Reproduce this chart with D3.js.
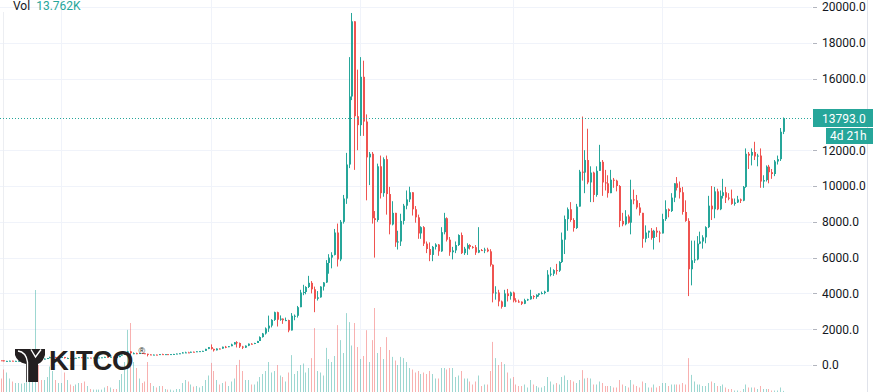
<!DOCTYPE html>
<html><head><meta charset="utf-8">
<script src="https://cdn.jsdelivr.net/npm/d3@7"></script>
<style>html,body{margin:0;padding:0;background:#fff;overflow:hidden}svg{display:block}</style>
</head><body>
<svg id="c" width="875" height="392"></svg>
<script>
// ---- data: BTC/USD weekly candles, first week starting Monday 2015-08-03 ----
const firstWeek = "2015-08-03";
const open = [
281,263,260,229,229,240,230,231,234,238, 245,262,284,325,384,330,325,357,390,435,
440,422,430,448,385,390,378,375,400,437, 432,405,414,410,417,420,420,430,455,450,
460,455,440,525,580,690,760,660,660,650, 668,655,625,590,570,580,570,608,605,607,
600,610,617,638,655,700,705,700,740,735, 765,775,790,900,998,900,820,920,915,1020,
1000,1050,1150,1270,1230,1030,970,1080,1190,1180, 1230,1340,1560,1760,2040,2200,2520,2950,2530,2590,
2500,2510,1930,2750,2750,3230,4050,4080,4360,4590, 4230,3700,3780,4380,4610,5700,6000,6150,7400,5900,
8000,9300,11200,15000,19200,13900,13400,16100,13600,11600, 11800,8200,8100,11100,9600,11500,9550,7850,8500,6850,
6900,8050,8900,9250,9650,8700,8250,7350,7700,6780, 6480,6150,6600,6730,6350,7420,8200,7000,6300,6400,
6700,7260,6250,6500,6700,6600,6580,6280,6420,6400, 6450,6350,5600,4000,4050,3550,3250,4000,3850,4050,
3600,3550,3540,3420,3620,3670,3850,3800,3920,4000, 4020,4100,5050,5100,5300,5270,5750,7000,8150,8700,
8100,7650,8850,10800,10750,11450,10200,10750,9500,10850, 11350,10200,10150,9600,10350,10300,10000,8050,7860,8300,
7950,9250,9200,8800,8500,7050,7400,7500,7100,7500, 7400,7350,8150,8700,8600,9350,10150,9900,9650,8550,
8050,5350,5850,5900,6780,6900,7130,7700,8900,8700, 9700,8700,9450,9650,9350,9300,9000,9080,9250,9180,
9950,11800,11700,11900,11650,11700,10250,10330,11080,10770, 10670,11370,11500,13030];
const high = [
285,272,262,232,241,245,235,236,240,248, 270,290,335,502,388,336,365,392,465,465,
458,436,455,450,410,396,378,405,442,443, 438,420,418,420,425,424,432,458,468,465,
462,458,530,585,700,780,770,705,690,675, 676,660,630,600,590,587,612,630,612,610,
612,620,641,660,720,742,740,745,750,768, 775,795,905,1000,1150,910,925,925,1025,1067,
1060,1190,1280,1330,1255,1070,1090,1200,1220,1240, 1350,1600,1790,2100,2760,2560,2980,2980,2770,2600,
2650,2530,2900,2820,3300,4200,4480,4400,4980,4690, 4380,4130,4400,4630,5860,6190,6300,7600,7900,8100,
9500,11850,17200,19666,19200,16500,17200,17000,14000,11900, 11900,8600,11250,11700,11600,11700,9950,9150,8500,7500,
8450,9000,9750,9960,9650,8880,8400,7750,7760,6900, 6850,6650,6800,6760,7700,8500,8250,7150,6600,6900,
7300,7400,6600,6800,6750,6650,6700,7700,6480,6550, 6550,6470,5620,4400,4200,3600,4200,4250,4100,4100,
3730,3650,3550,3700,3700,4200,3900,3950,4000,4100, 4150,5300,5460,5350,5650,5800,7400,8350,8800,9100,
8200,9000,10900,13880,12000,13200,11100,10800,11100,12300, 11450,10900,10600,10900,10450,10350,10050,8500,8650,8400,
10350,9800,9500,9050,8500,7800,7500,7650,7550,7700, 7500,8450,9200,8750,9600,10150,10500,10250,9950,9200,
8200,6950,6950,7200,7450,7250,7750,9450,10000,9950, 9850,9750,10400,9950,9600,9800,9300,9450,9300,10000,
12100,11900,12100,12470,11800,12100,10600,11150,11180,10950, 11450,11700,13240,13830];
const low = [
258,258,198,199,225,229,225,226,234,236, 245,262,281,325,300,313,315,357,387,425,
418,415,425,360,368,368,366,372,399,408, 398,400,405,408,411,414,419,427,445,440,
448,436,437,520,568,660,550,605,605,645, 650,615,480,565,565,565,568,604,600,592,
596,607,615,628,652,680,690,695,725,730, 755,770,790,885,860,752,815,880,910,940,
995,1050,1145,980,950,891,955,1055,1150,1165, 1230,1340,1530,1700,1850,2100,2460,2150,2470,2300,
2450,1830,1930,2500,2650,3230,3900,3950,4300,4000, 2950,3600,3760,4160,4580,5100,5400,6120,5500,5800,
7900,9000,11000,14800,10900,12000,12800,12800,9200,10050, 7900,6000,8000,9300,9400,8400,7300,7800,6600,6450,
6650,7850,8700,9100,8350,7950,7050,7050,6650,6250, 5800,5800,6450,6100,6320,7300,6900,6100,5900,6250,
6650,6200,6150,6150,6450,6500,6150,6250,6370,6250, 6300,5500,3500,3650,3280,3150,3250,3550,3650,3500,
3500,3480,3350,3400,3580,3650,3680,3700,3820,3950, 3950,4080,4950,4980,5050,5200,5700,6200,7500,8000,
7450,7600,8850,10300,9600,10100,9100,9100,9400,10850, 9450,9750,9350,9600,9900,9700,7700,7750,7800,7900,
7300,8980,8700,8350,6550,6850,7100,7000,6450,7150, 6850,7350,8050,8250,8550,9100,9750,9300,8400,8000,
3850,4450,5700,5850,6750,6500,6800,7650,8100,8200, 8650,8650,9300,9050,9200,8950,8900,9050,9050,9150,
9900,10950,11150,11450,11100,9900,9900,10250,10150,10400, 10550,11200,11400,12900];
const close = [
263,260,229,229,240,230,231,234,238,245, 262,284,325,384,330,325,357,390,435,440,
422,430,448,385,390,378,375,400,437,432, 405,414,410,417,420,420,430,455,450,460,
455,440,525,580,690,760,660,660,650,668, 655,625,590,570,580,570,608,605,607,600,
610,617,638,655,700,705,700,740,735,765, 775,790,900,998,900,820,920,915,1020,1000,
1050,1150,1270,1230,1030,970,1080,1190,1180,1230, 1340,1560,1760,2040,2200,2520,2950,2530,2590,2500,
2510,1930,2750,2750,3230,4050,4080,4360,4590,4230, 3700,3780,4380,4610,5700,6000,6150,7400,5900,8000,
9300,11200,15000,19200,13900,13400,16100,13600,11600,11800, 8200,8100,11100,9600,11500,9550,7850,8500,6850,6900,
8050,8900,9250,9650,8700,8250,7350,7700,6780,6480, 6150,6600,6730,6350,7420,8200,7000,6300,6400,6700,
7260,6250,6500,6700,6600,6580,6280,6420,6400,6450, 6350,5600,4000,4050,3550,3250,4000,3850,4050,3600,
3550,3540,3420,3620,3670,3850,3800,3920,4000,4020, 4100,5050,5100,5300,5270,5750,7000,8150,8700,8100,
7650,8850,10800,10750,11450,10200,10750,9500,10850,11350, 10200,10150,9600,10350,10300,10000,8050,7860,8300,7950,
9250,9200,8800,8500,7050,7400,7500,7100,7500,7400, 7350,8150,8700,8600,9350,10150,9900,9650,8550,8050,
5350,5850,5900,6780,6900,7130,7700,8900,8700,9700, 8700,9450,9650,9350,9300,9000,9080,9250,9180,9950,
11800,11700,11900,11650,11700,10250,10330,11080,10770,10670, 11370,11500,13030,13793];
// weekly volume, thousands
const volume = [
60,55,85,75,55,45,40,40,38,40, 55,70,120,350,100,50,50,60,95,80,
50,40,40,75,50,35,30,35,40,40, 45,30,20,18,18,18,18,25,30,25,
20,20,50,70,110,217,240,110,90,55, 40,45,110,40,30,25,30,30,20,18,
18,15,20,20,40,50,45,35,28,30, 25,30,50,65,107,80,50,35,40,45,
30,45,55,100,117,80,50,50,35,35, 45,60,70,80,110,75,80,100,65,60,
45,75,133,70,80,100,105,75,90,123, 223,80,75,65,157,120,110,130,233,183,
140,273,243,165,240,160,120,130,216,110, 183,290,140,160,120,193,150,127,115,100,
127,123,110,90,85,75,80,70,75,70, 80,70,55,55,90,90,85,90,90,60,
65,80,55,55,45,35,45,65,30,35, 35,80,177,123,100,110,103,75,55,60,
35,30,30,35,25,50,35,30,25,25, 30,60,45,35,40,35,60,65,50,50,
45,40,50,83,55,57,55,35,35,45, 40,30,30,30,25,25,50,35,30,25,
50,35,30,25,45,40,25,25,35,25, 30,40,40,30,35,35,35,35,40,35,
123,67,45,35,35,30,30,40,45,40, 30,30,35,25,20,20,15,15,12,20,
35,25,25,25,20,30,20,20,20,15, 15,15,25,13.762];
const priceTicks = [0,2000,4000,6000,8000,10000,12000,16000,18000,20000];
const yearGrid = [2016,2017,2018,2019,2020];
const lastPriceLabel = "13793.0";
const countdownLabel = "4d 21h";
const volLegend = "13.762K";

// ---- drawing ----
const W = 875, H = 392, plotRight = 812;
const UP = "#26a69a", DOWN = "#ef5350";
const svg = d3.select("#c");
const start = new Date(firstWeek + "T00:00:00Z");
const weeks = d3.utcMonday.range(start, d3.utcMonday.offset(start, close.length));
const idx = d3.range(close.length);

const x = d3.scaleBand().domain(idx).range([-2.71, 785.31]).padding(0);
const cx = i => Math.round(x(i) + x.bandwidth() / 2);
const y = d3.scaleLinear().domain([0, 20000]).range([365, 7]);
const yv = d3.scaleLinear().domain([0, 350]).range([395, 290]);

// grid
const g = svg.append("g");
g.selectAll("line.h").data(priceTicks).join("line")
  .attr("x1", 0).attr("x2", plotRight)
  .attr("y1", d => Math.round(y(d)) + 0.5).attr("y2", d => Math.round(y(d)) + 0.5)
  .attr("stroke", "#f0f3fa").attr("stroke-width", 1);
const yearIdx = yearGrid.map(yr => idx.find(i => weeks[i].getUTCFullYear() === yr));
g.selectAll("line.v").data(yearIdx).join("line")
  .attr("x1", d => cx(d) - 0.5).attr("x2", d => cx(d) - 0.5)
  .attr("y1", 0).attr("y2", H)
  .attr("stroke", "#f0f3fa").attr("stroke-width", 1);
// left edge line of the pane
g.append("line").attr("x1", 3.5).attr("x2", 3.5).attr("y1", 12).attr("y2", H)
  .attr("stroke", "#eceef2").attr("stroke-width", 1);

// volume
svg.append("g").selectAll("rect").data(idx).join("rect")
  .attr("x", i => cx(i) - 1).attr("width", 1)
  .attr("y", i => yv(volume[i])).attr("height", i => yv(0) - yv(volume[i]))
  .attr("fill", i => close[i] >= open[i] ? UP : DOWN).attr("fill-opacity", 0.45);

// candles
const cg = svg.append("g");
cg.selectAll("line").data(idx).join("line")
  .attr("x1", i => cx(i) - 0.5).attr("x2", i => cx(i) - 0.5)
  .attr("y1", i => y(high[i])).attr("y2", i => y(low[i]))
  .attr("stroke", i => close[i] >= open[i] ? UP : DOWN).attr("stroke-width", 1);
cg.selectAll("rect").data(idx).join("rect")
  .attr("x", i => cx(i) - 1).attr("width", 2)
  .attr("y", i => y(Math.max(open[i], close[i])))
  .attr("height", i => Math.max(1, Math.abs(y(open[i]) - y(close[i]))))
  .attr("fill", i => close[i] >= open[i] ? UP : DOWN);

// last price line
const lastY = Math.round(y(close[close.length - 1])) + 0.5;
svg.append("line").attr("x1", 0).attr("x2", plotRight).attr("y1", lastY).attr("y2", lastY)
  .attr("stroke", UP).attr("stroke-width", 1).attr("stroke-dasharray", "1,2");

// KITCO logo
const logo = svg.append("g");
logo.append("path")
  .attr("d", "M15,349 H45 V355 Q43,362 38,364 V382 H26 V364 Q17,362 15,355 Z")
  .attr("fill", "#231f20");
logo.append("path").attr("d", "M18,351 Q26,352 27.5,362 V382").attr("fill", "none")
  .attr("stroke", "#fff").attr("stroke-width", 1.4);
logo.append("path").attr("d", "M31,349.5 L35.5,357 L41,349.5").attr("fill", "none")
  .attr("stroke", "#fff").attr("stroke-width", 1.4);
logo.append("text").attr("x", 49).attr("y", 370).text("KITCO")
  .attr("font-family", "Liberation Sans, Arial, sans-serif").attr("font-weight", "bold")
  .attr("font-size", 27.5).attr("letter-spacing", -0.3).attr("fill", "#231f20");
logo.append("text").attr("x", 138.5).attr("y", 354).text("®")
  .attr("font-family", "Liberation Sans, Arial, sans-serif").attr("font-size", 9).attr("fill", "#231f20");

// price axis
const ax = svg.append("g").attr("font-family", "Roboto, 'Liberation Sans', sans-serif").attr("font-size", 12);
ax.append("line").attr("x1", 867.5).attr("x2", 867.5).attr("y1", 0).attr("y2", H).attr("stroke", "#e0e3eb");
const tk = ax.selectAll("g.t").data(priceTicks).join("g");
tk.append("line").attr("x1", 813).attr("x2", 817)
  .attr("y1", d => Math.round(y(d)) + 0.5).attr("y2", d => Math.round(y(d)) + 0.5).attr("stroke", "#b2b5be");
tk.append("text").attr("x", 822).attr("y", d => y(d)).attr("dy", "0.36em")
  .attr("fill", "#131722").text(d => d3.format(".1f")(d));

ax.append("rect").attr("x", 813).attr("y", lastY - 9.5).attr("width", 60).attr("height", 18).attr("fill", UP);
ax.append("text").attr("x", 822).attr("y", lastY).attr("dy", "0.36em").attr("fill", "#fff").text(lastPriceLabel);
ax.append("rect").attr("x", 826).attr("y", lastY + 9.5).attr("width", 47).attr("height", 16).attr("fill", UP);
ax.append("text").attr("x", 830).attr("y", lastY + 17.5).attr("dy", "0.36em").attr("fill", "#fff").text(countdownLabel);

// legend
const lg = svg.append("text").attr("x", 13).attr("y", 10).attr("font-family", "Roboto, 'Liberation Sans', sans-serif").attr("font-size", 12);
lg.append("tspan").attr("fill", "#131722").text("Vol");
lg.append("tspan").attr("dx", 6).attr("fill", UP).text(volLegend);
</script>
</body></html>
